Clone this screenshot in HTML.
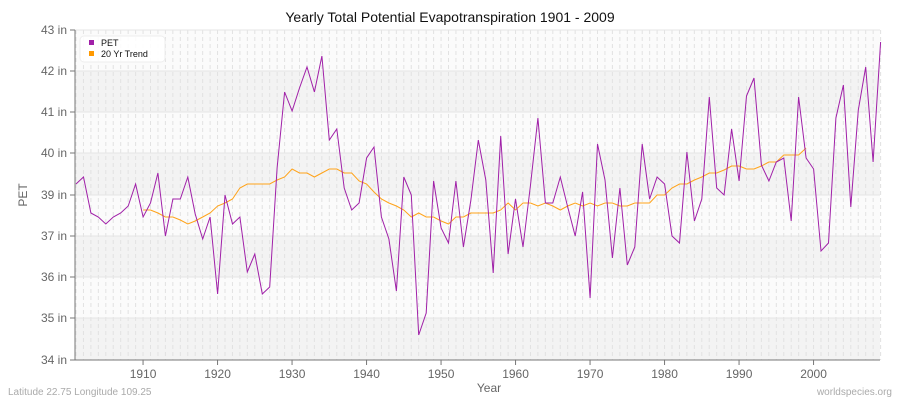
<!DOCTYPE html>
<html><head><meta charset="utf-8"><style>
body{margin:0;background:#fff;}
svg{display:block;font-family:"Liberation Sans",sans-serif;}
</style></head><body>
<svg id="s" width="900" height="400" viewBox="0 0 900 400" xmlns="http://www.w3.org/2000/svg">
<rect width="900" height="400" fill="#fff"/>
<g id="bg"></g>
<g id="grid"></g>
<text x="450" y="22" text-anchor="middle" font-size="14" fill="#111">Yearly Total Potential Evapotranspiration 1901 - 2009</text>
<g id="ax" font-size="12" fill="#666"></g>
<text x="489" y="392" text-anchor="middle" font-size="12" fill="#666">Year</text>
<text x="27" y="195" text-anchor="middle" font-size="12" fill="#666" transform="rotate(-90 27 195)">PET</text>
<polyline id="trend" fill="none" stroke="#ffa31a" stroke-width="1"/>
<polyline id="pet" fill="none" stroke="#a020a8" stroke-width="1"/>
<line x1="75" y1="30" x2="75" y2="360" stroke="#777"/>
<line x1="75" y1="360" x2="880" y2="360" stroke="#777"/>
<rect x="80" y="36" width="85" height="26" rx="4" fill="#fff" fill-opacity="0.9" stroke="#eee"/>
<rect x="89" y="40" width="5" height="5" fill="#a020a8"/>
<rect x="89" y="51" width="5" height="5" fill="#ff9900"/>
<text x="101" y="46" font-size="9" fill="#111">PET</text>
<text x="101" y="57" font-size="9" fill="#111">20 Yr Trend</text>
<text x="8" y="395" font-size="10" fill="#aaa">Latitude 22.75 Longitude 109.25</text>
<text x="892" y="395" font-size="10" fill="#aaa" text-anchor="end">worldspecies.org</text>
</svg>
<script>
var NS="http://www.w3.org/2000/svg";
function el(p,t,a){var e=document.createElementNS(NS,t);for(var k in a)e.setAttribute(k,a[k]);p.appendChild(e);return e;}
var bg=document.getElementById('bg'),grid=document.getElementById('grid'),ax=document.getElementById('ax');
var ys=[30,71,112,153,195,236,277,318,360];
var labs=["43 in","42 in","41 in","40 in","39 in","37 in","36 in","35 in","34 in"];
for(var i=0;i<8;i++){el(bg,'rect',{x:75,y:ys[i],width:805,height:ys[i+1]-ys[i],fill:(i%2?'#f3f3f3':'#fbfbfb')});}
function X(yr){return 76+(yr-1901)*7.45;}
for(var yr=1901;yr<=2009;yr++){var x=X(yr);el(grid,'line',{x1:x,y1:30,x2:x,y2:360,stroke:'#e2e2e2','stroke-dasharray':'4,3','stroke-width':1});}
for(var i=0;i<9;i++){el(grid,'line',{x1:75,y1:ys[i],x2:880,y2:ys[i],stroke:'#e6e6e6'});
el(ax,'line',{x1:70,y1:ys[i],x2:75,y2:ys[i],stroke:'#777'});
var t=el(ax,'text',{x:67,y:ys[i]+4,'text-anchor':'end'});t.textContent=labs[i];}
for(var yr=1910;yr<=2000;yr+=10){var x=X(yr);el(ax,'line',{x1:x,y1:360,x2:x,y2:365,stroke:'#777'});var t=el(ax,'text',{x:x,y:378,'text-anchor':'middle'});t.textContent=yr;}
var pet=[184,177,213,217,224,217,213,206,184,217,203,173,236,199,199,177,214,239,217,294,195,224,217,272,254,294,287,168,92,111,88,67,92,56,140,129,188,210,203,158,147,217,239,291,177,195,335,313,181,228,243,181,247,200,140,180,273,136,254,199,247,185,118,203,203,177,207,236,192,298,144,180,258,188,265,247,144,199,177,184,236,243,152,221,199,97,188,195,129,181,96,78,165,181,162,158,221,97,158,169,251,243,118,85,207,110,67,162,42];
var pp=[];for(var i=0;i<pet.length;i++)pp.push(X(1901+i).toFixed(1)+','+pet[i]);
document.getElementById('pet').setAttribute('points',pp.join(' '));
var tr=[210,210,213,217,217,220,224,221,217,213,206,203,199,188,184,184,184,184,180,177,169,173,173,177,173,169,169,173,173,181,184,192,199,203,206,210,217,213,217,217,221,224,217,217,213,213,213,213,210,203,210,203,203,206,203,206,210,206,203,206,203,206,203,203,206,206,203,203,203,195,195,188,184,184,180,177,173,173,170,166,166,169,169,166,162,162,155,155,155,148];
var tp=[];for(var i=0;i<tr.length;i++)tp.push(X(1910+i).toFixed(1)+','+tr[i]);
document.getElementById('trend').setAttribute('points',tp.join(' '));
</script>
</body></html>
